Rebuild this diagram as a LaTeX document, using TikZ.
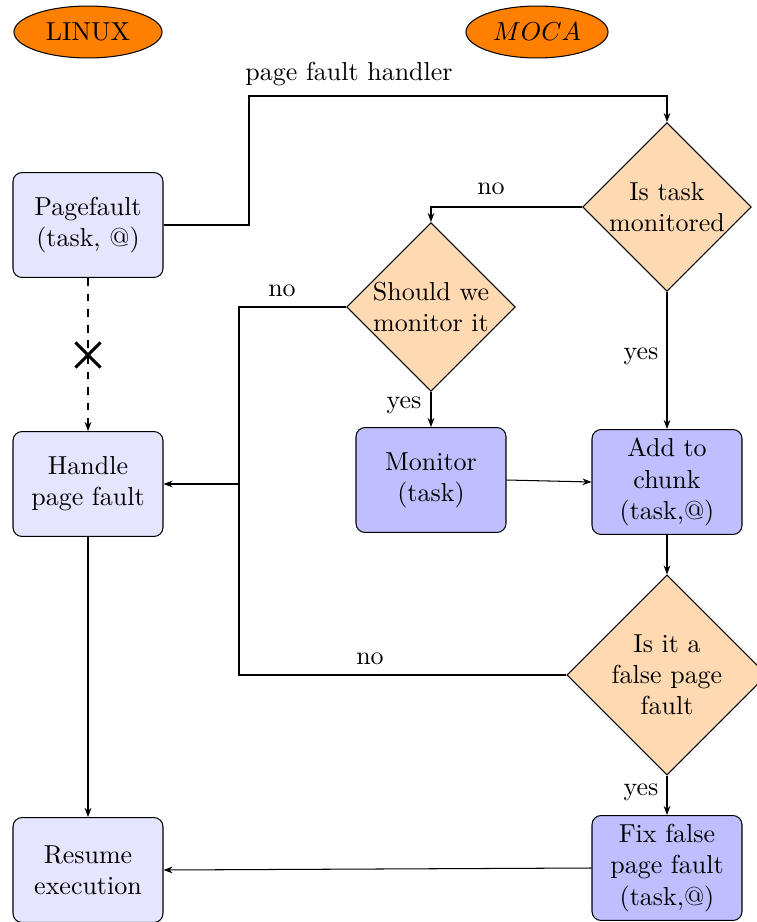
\documentclass[tikz,border=0pt]{standalone}
\usetikzlibrary{shapes.geometric,shapes.misc,arrows.meta}
\begin{document}
\begin{tikzpicture}[x=0.385pt,y=-0.385pt,
  box/.style={draw, rounded corners=3.5pt, minimum width=57.75pt, minimum height=40.4pt, align=center, inner sep=0pt},
  linuxbox/.style={box, fill=blue!10},
  mocabox/.style={box, fill=blue!25},
  decision/.style={draw, diamond, aspect=1, fill=orange!30, inner sep=0pt},
  txt/.style={align=center, inner sep=0pt},
  conn/.style={-{Stealth[length=3.5pt,width=2.6pt]}},
  tag/.style={inner sep=1pt},
  os/.style={draw, ellipse, fill=orange, inner sep=0pt, minimum height=20pt}
]
\clip (0,0) rectangle (757,922);
% headers
\node[os, minimum width=57pt] (linux) at (88,32) {LINUX};
\node[os, minimum width=54.7pt] (moca) at (537,32) {$MOCA$};
% linux side
\node[linuxbox] (pf) at (88,225) {Pagefault\\(task, @)};
\node[linuxbox] (hpf) at (88,484) {Handle\\page fault};
\node[linuxbox] (res) at (88,870) {Resume\\execution};
% moca side
\node[decision, minimum width=65pt, minimum height=65pt] (q1) at (667,207) {};
\node[txt] (q1t) at (667,207) {Is task\\monitored};
\node[decision, minimum width=65pt, minimum height=65pt] (q2) at (431,307) {};
\node[txt] (q2t) at (431,307) {Should we\\monitor it};
\node[mocabox] (mon) at (431,480) {Monitor\\(task)};
\node[mocabox] (add) at (667,482) {Add to\\chunk\\(task,@)};
\node[decision, minimum width=77pt, minimum height=77pt] (fpf) at (667,675) {};
\node[txt] (fpft) at (667,675) {Is it a\\false page\\fault};
\node[mocabox] (fix) at (667,868) {Fix false\\page fault\\(task,@)};
% connectors
\coordinate (c1) at (249,96);
\draw[conn] (pf.east) -| (c1) -- (c1 -| q1.north) -- (q1.north);
\node[tag] (lpf) at (349,74) {page fault handler};
\draw[conn] (q1.west) -| (q2.north);
\node[tag] (lno1) at (491,189) {no};
\draw[conn] (q1.south) -- (add.north);
\node[tag] (lyes1) at (641,356) {yes};
\coordinate (j) at (239,484);
\draw (q2.west) -| (j);
\draw (fpf.west) -| (j);
\draw[conn] (j) -- (hpf.east);
\node[tag] (lno2) at (282,291) {no};
\node[tag] (lno3) at (370,659) {no};
\draw[conn] (q2.south) -- (mon.north);
\node[tag] (lyes2) at (404,405) {yes};
\draw[conn] (mon.east) -- (add.west);
\draw[conn] (add.south) -- (fpf.north);
\draw[conn] (fpf.south) -- (fix.north);
\node[tag] (lyes3) at (641,792) {yes};
\draw[conn] (fix.west) -- (res.east);
\draw[conn] (hpf.south) -- (res.north);
\draw[conn, dashed] (pf.south) -- (hpf.north);
\node[cross out, draw, line width=1.2pt, minimum size=8.5pt, inner sep=0pt] (x) at (88,355) {};
\end{tikzpicture}
\end{document}
